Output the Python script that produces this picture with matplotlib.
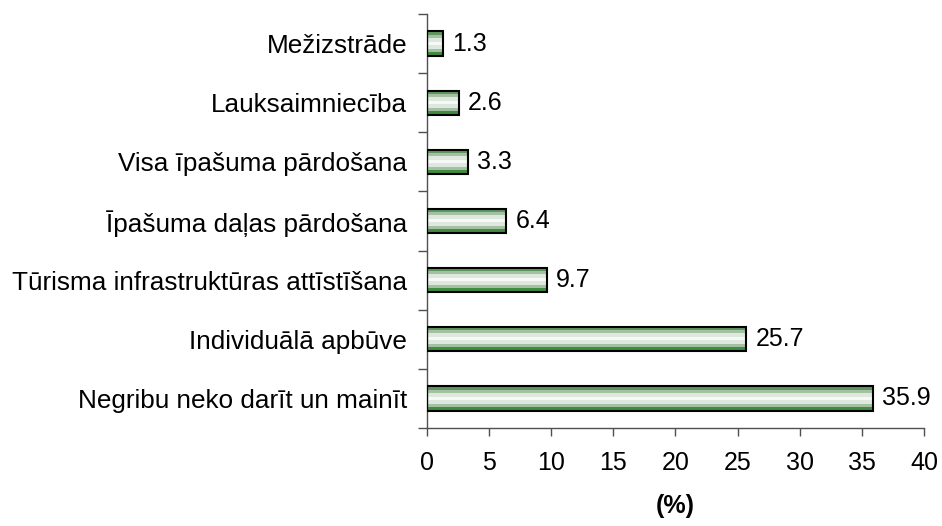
import numpy as np
import matplotlib

matplotlib.use('Agg')
import matplotlib.pyplot as plt  # noqa: E402
from matplotlib.colors import to_rgb  # noqa: E402

plt.rcParams['font.family'] = ['Liberation Sans', 'DejaVu Sans']

# bottom to top
categories = [
    'Negribu neko darīt un mainīt',
    'Individuālā apbūve',
    'Tūrisma infrastruktūras attīstīšana',
    'Īpašuma daļas pārdošana',
    'Visa īpašuma pārdošana',
    'Lauksaimniecība',
    'Mežizstrāde',
]
values = [35.9, 25.7, 9.7, 6.4, 3.3, 2.6, 1.3]
value_labels = ['35.9', '25.7', '9.7', '6.4', '3.3', '2.6', '1.3']
x_ticks = [0, 5, 10, 15, 20, 25, 30, 35, 40]

# horizontal stripes, top row first
stripe_colors = ['#5f965f', '#a3c0a3', '#dfe8df', '#f7f9f7', '#dfe8df', '#a3c0a3', '#3f8c3f']
stripes = np.array([[to_rgb(c)] for c in stripe_colors])

FS = 18
axis_col = '#505050'

fig = plt.figure(figsize=(9.42, 5.26), dpi=100)
ax = fig.add_axes([0.453, 0.1863, 0.528, 0.787])

bar_h = 0.41
y_pos = np.arange(len(categories))
for y, v in zip(y_pos, values):
    ax.imshow(stripes, extent=[0, v, y - bar_h / 2, y + bar_h / 2],
              aspect='auto', interpolation='nearest', zorder=2)
ax.barh(y_pos, values, height=bar_h, facecolor='none', edgecolor='black',
        linewidth=1.5, zorder=3)

for y, v, lab in zip(y_pos, values, value_labels):
    ax.annotate(lab, (v, y), xytext=(6.5, 0), textcoords='offset points',
                ha='left', va='center', fontsize=FS)

ax.set_xlim(0, 40)
ax.set_ylim(-0.5, len(categories) - 0.5)
ax.set_xticks(x_ticks)
ax.set_xticklabels([str(t) for t in x_ticks], fontsize=FS)
ax.set_yticks(y_pos)
ax.set_yticklabels(categories, fontsize=18.8)
ax.set_yticks(np.arange(-0.5, len(categories)), minor=True)
ax.tick_params(axis='y', which='major', length=0, pad=14)
ax.tick_params(axis='y', which='minor', length=6.5, width=1, color=axis_col, direction='out')
ax.tick_params(axis='x', length=5.5, width=1, color=axis_col, direction='out', pad=11)

for side in ('top', 'right'):
    ax.spines[side].set_visible(False)
for side in ('left', 'bottom'):
    ax.spines[side].set_linewidth(1)
    ax.spines[side].set_color(axis_col)

ax.set_xlabel('(%)', fontsize=FS, fontweight='bold', labelpad=14)

fig.savefig('out.png', dpi=100)
